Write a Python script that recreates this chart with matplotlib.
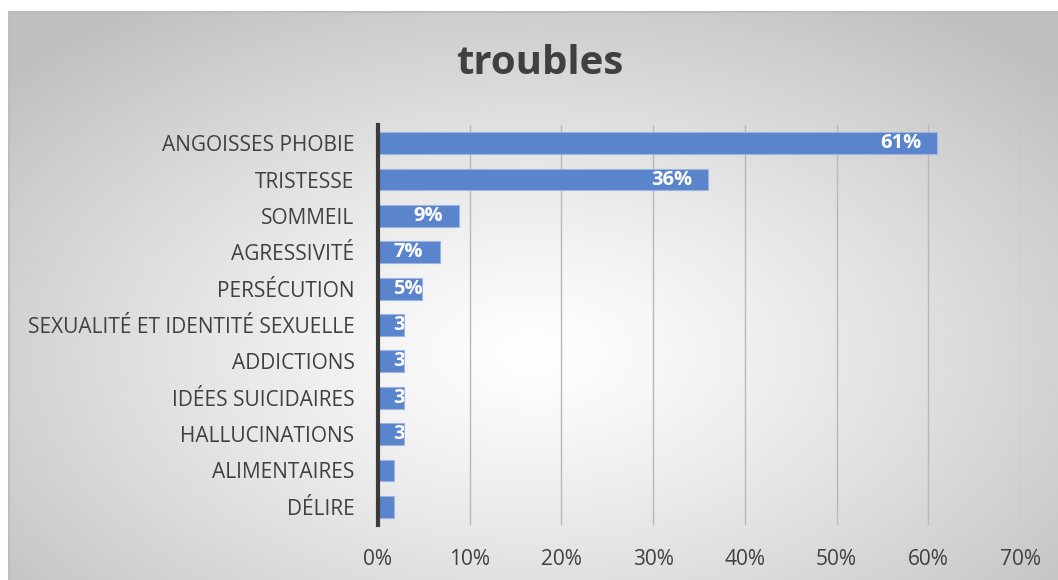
import numpy as np
import matplotlib.pyplot as plt

categories = ['ANGOISSES PHOBIE', 'TRISTESSE', 'SOMMEIL', 'AGRESSIVITÉ', 'PERSÉCUTION',
              'SEXUALITÉ ET IDENTITÉ SEXUELLE', 'ADDICTIONS', 'IDÉES SUICIDAIRES',
              'HALLUCINATIONS', 'ALIMENTAIRES', 'DÉLIRE']
values = [0.61, 0.36, 0.088, 0.068, 0.048, 0.028, 0.028, 0.028, 0.028, 0.017, 0.017]
value_labels = ['61%', '36%', '9%', '7%', '5%', '3%', '3%', '3%', '3%', '2%', '2%']
x_ticks = [0, 0.1, 0.2, 0.3, 0.4, 0.5, 0.6, 0.7]
x_tick_labels = ['0%', '10%', '20%', '30%', '40%', '50%', '60%', '70%']

W, H = 1058, 580
plt.rcParams['font.family'] = ['Open Sans', 'DejaVu Sans']

fig = plt.figure(figsize=(W / 100, H / 100), dpi=100)
fig.patch.set_facecolor('white')

# chart box with radial gradient
bx0, by_top = 9, 12
bg = fig.add_axes([bx0 / W, 0, 1 - bx0 / W, 1 - by_top / H], zorder=0)
gx, gy = np.meshgrid(np.linspace(-1, 1, 600), np.linspace(-1, 1, 340))
cx, cy = 0.0, 0.2
r = np.sqrt(((gx - cx) / 1.0) ** 2 + ((gy - cy) / 1.1) ** 2)
r = np.clip(r / 1.35, 0, 1)
grey = 1.0 - 0.25 * r ** 1.2
bg.imshow(np.dstack([grey, grey, grey]), aspect='auto', extent=[0, 1, 0, 1],
          interpolation='bilinear')
bg.set_xlim(0, 1)
bg.set_ylim(0, 1)
bg.set_xticks([])
bg.set_yticks([])
for s in ['right', 'bottom']:
    bg.spines[s].set_visible(False)
for s in ['left', 'top']:
    bg.spines[s].set_color('#bdbdbd')
    bg.spines[s].set_linewidth(1.5)

ax = fig.add_axes([378 / W, 55 / H, 642 / W, 400 / H], zorder=1)
ax.set_facecolor('none')

y = np.arange(len(categories))
bars = ax.barh(y, values, height=0.6, color='#5a84cc', edgecolor='#9db5e0',
               linewidth=0.8, zorder=3)

ax.set_xlim(0, 0.7)
ax.set_ylim(len(categories) - 0.5, -0.5)
ax.set_xticks(x_ticks)
ax.set_xticklabels(x_tick_labels)
ax.set_yticks(y)
ax.set_yticklabels(categories)
ax.tick_params(axis='both', length=0, labelsize=15, labelcolor='#404040')
ax.tick_params(axis='x', pad=17)
ax.tick_params(axis='y', pad=17)
ax.grid(axis='x', color='#b8b8b8', linewidth=1.0, zorder=0)
for s in ['top', 'right', 'bottom']:
    ax.spines[s].set_visible(False)
ax.spines['left'].set_color('#3a3a3a')
ax.spines['left'].set_linewidth(3)
ax.spines['left'].set_zorder(4)

px_per_unit = 642 / 0.7
for bar, v, lab in zip(bars, values, value_labels):
    yc = bar.get_y() + bar.get_height() / 2
    if v * px_per_unit > 70:
        t = ax.annotate(lab, (v, yc), xytext=(-16, 0), textcoords='offset pixels',
                        ha='right', va='center', fontsize=14.5, fontweight='bold',
                        color='white', zorder=5)
    else:
        t = ax.annotate(lab, (0, yc), xytext=(15, 0), textcoords='offset pixels',
                        ha='left', va='center', fontsize=14.5, fontweight='bold',
                        color='white', zorder=5)
    t.set_clip_path(bar)

fig.text(540 / W, 1 - 63 / H, 'troubles', ha='center', va='center',
         fontsize=29, fontweight='bold', color='#404040')

fig.savefig('out.png', dpi=100)
